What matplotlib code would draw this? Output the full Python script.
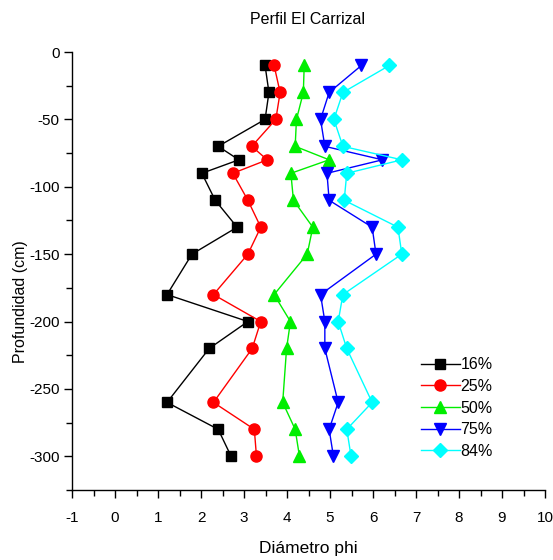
import matplotlib
matplotlib.use("Agg")
import matplotlib.pyplot as plt
from matplotlib.ticker import MultipleLocator

# Depth of each sample (cm) and phi diameters per percentile
depth = [-10, -30, -50, -70, -80, -90, -110, -130, -150, -180, -200, -220, -260, -280, -300]
p16 = [3.49, 3.58, 3.49, 2.40, 2.88, 2.02, 2.33, 2.84, 1.79, 1.21, 3.09, 2.19, 1.21, 2.40, 2.70]
p25 = [3.70, 3.84, 3.74, 3.18, 3.54, 2.74, 3.09, 3.39, 3.09, 2.29, 3.39, 3.19, 2.29, 3.24, 3.29]
p50 = [4.40, 4.38, 4.22, 4.19, 4.98, 4.09, 4.15, 4.60, 4.47, 3.70, 4.08, 3.99, 3.90, 4.19, 4.29]
p75 = [5.73, 4.98, 4.78, 4.88, 6.22, 4.93, 4.98, 5.98, 6.07, 4.78, 4.88, 4.88, 5.19, 4.98, 5.08]
p84 = [6.38, 5.30, 5.09, 5.30, 6.67, 5.39, 5.33, 6.58, 6.67, 5.30, 5.19, 5.39, 5.98, 5.39, 5.49]

series_labels = ["16%", "25%", "50%", "75%", "84%"]
series = [p16, p25, p50, p75, p84]
colors = ["#000000", "#ff0000", "#00ee00", "#0000ff", "#00ffff"]
markers = ["s", "o", "^", "v", "D"]
msizes = [7, 8, 8, 8, 7]

plt.rcParams["font.family"] = ["Liberation Sans", "DejaVu Sans"]
plt.rcParams["axes.unicode_minus"] = False

fig = plt.figure(figsize=(5.53, 5.60), dpi=100)
ax = fig.add_axes([72 / 553, 1 - 490 / 560, (545 - 72) / 553, (490 - 52) / 560])

for vals, lab, c, m, ms in zip(series, series_labels, colors, markers, msizes):
    ax.plot(vals, depth, color=c, marker=m, markersize=ms, linewidth=1.0,
            markeredgecolor=c, label=lab)

ax.set_xlim(-1, 10)
ax.set_ylim(-325, 0)
ax.xaxis.set_major_locator(MultipleLocator(1))
ax.xaxis.set_minor_locator(MultipleLocator(0.5))
ax.yaxis.set_major_locator(MultipleLocator(50))
ax.yaxis.set_minor_locator(MultipleLocator(25))
ax.spines["top"].set_visible(False)
ax.spines["right"].set_visible(False)
for s in ("left", "bottom"):
    ax.spines[s].set_linewidth(1.0)
ax.tick_params(which="major", direction="out", length=6, width=1.0, labelsize=11)
ax.tick_params(axis="y", which="major", pad=3)
ax.tick_params(axis="x", which="major", pad=9)
ax.tick_params(which="minor", direction="out", length=4, width=1.0)

fig.text(308 / 553, 1 - 20 / 560, "Perfil El Carrizal", fontsize=11.5,
         ha="center", va="center")
fig.text(308 / 553, 1 - 549 / 560, "Diámetro phi", fontsize=12.5,
         ha="center", va="center")
fig.text(21 / 553, 1 - 302 / 560, "Profundidad (cm)", fontsize=11.5,
         ha="center", va="center", rotation=90)

ax.legend(loc="upper left", bbox_to_anchor=(0.725, 0.318), frameon=False,
          fontsize=11.5, handlelength=2.4, handletextpad=0.05, labelspacing=0.42,
          borderaxespad=0)

fig.savefig("out.png", dpi=100)
